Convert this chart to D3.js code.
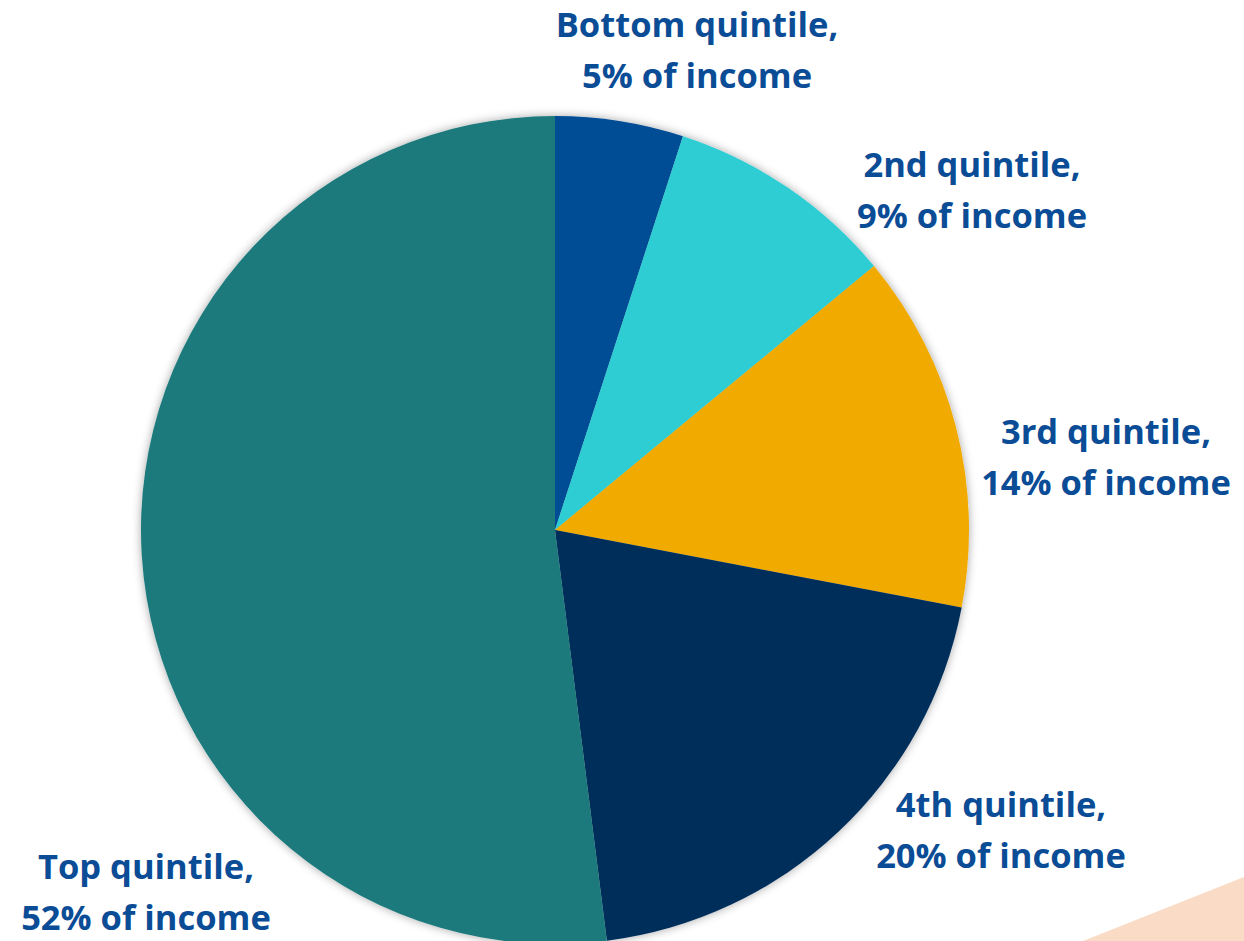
<!DOCTYPE html>
<html>
<head>
<meta charset="utf-8">
<script src="https://cdn.jsdelivr.net/npm/d3@7"></script>
<style>
  html, body { margin: 0; padding: 0; background: #fff; }
  svg { display: block; }
  .pie-label { font-family: "Open Sans", Lato, sans-serif; font-weight: 700; fill: #0A4C95; }
</style>
</head>
<body>
<div id="chart"></div>
<script>
// data
const categories = ['Bottom quintile', '2nd quintile', '3rd quintile', '4th quintile', 'Top quintile']
const shares = [5, 9, 14, 20, 52]
const sliceColors = ['#024D96', '#2ECCD3', '#F0AA00', '#002F5A', '#1D7A7C']

const width = 1244
const height = 941
const cx = 555
const cy = 530
const radius = 414

// where each label block sits (centre x, first baseline)
const labelLayout = [
  { x: 697, y: 37 },
  { x: 972, y: 177 },
  { x: 1106, y: 444 },
  { x: 1001, y: 817 },
  { x: 146, y: 879 }
]

const svg = d3.select('#chart')
  .append('svg')
    .attr('width', width)
    .attr('height', height)
    .attr('viewBox', `0 0 ${width} ${height}`)

const defs = svg.append('defs')
defs.append('filter')
    .attr('id', 'pie-shadow')
    .attr('x', '-10%').attr('y', '-10%')
    .attr('width', '120%').attr('height', '120%')
  .append('feDropShadow')
    .attr('dx', 0)
    .attr('dy', 0)
    .attr('stdDeviation', 5)
    .attr('flood-color', '#000')
    .attr('flood-opacity', 0.35)

// peach corner decoration
svg.append('path')
  .attr('d', `M1083 ${height}L${width} 877L${width} ${height}Z`)
  .attr('fill', '#FADCC6')

// PIE
const pie = d3.pie().sort(null).value(d => d)
const arc = d3.arc().innerRadius(0).outerRadius(radius)

const pieG = svg.append('g')
  .attr('transform', `translate(${cx} ${cy})`)
  .attr('filter', 'url(#pie-shadow)')

pieG.selectAll('.slice')
  .data(pie(shares))
  .enter().append('path')
  .attr('class', 'slice')
  .attr('d', arc)
  .attr('fill', (d, i) => sliceColors[i])

// LABELS
const labels = svg.append('g')
  .selectAll('.pie-label')
  .data(categories)
  .enter().append('text')
  .attr('class', 'pie-label')
  .attr('text-anchor', 'middle')
  .attr('font-size', 34.5)
  .attr('transform', (d, i) => `translate(${labelLayout[i].x} ${labelLayout[i].y})`)

labels.append('tspan')
  .attr('x', 0)
  .attr('y', 0)
  .text(d => `${d},`)

labels.append('tspan')
  .attr('x', 0)
  .attr('y', 51)
  .text((d, i) => `${shares[i]}% of income`)
</script>
</body>
</html>
